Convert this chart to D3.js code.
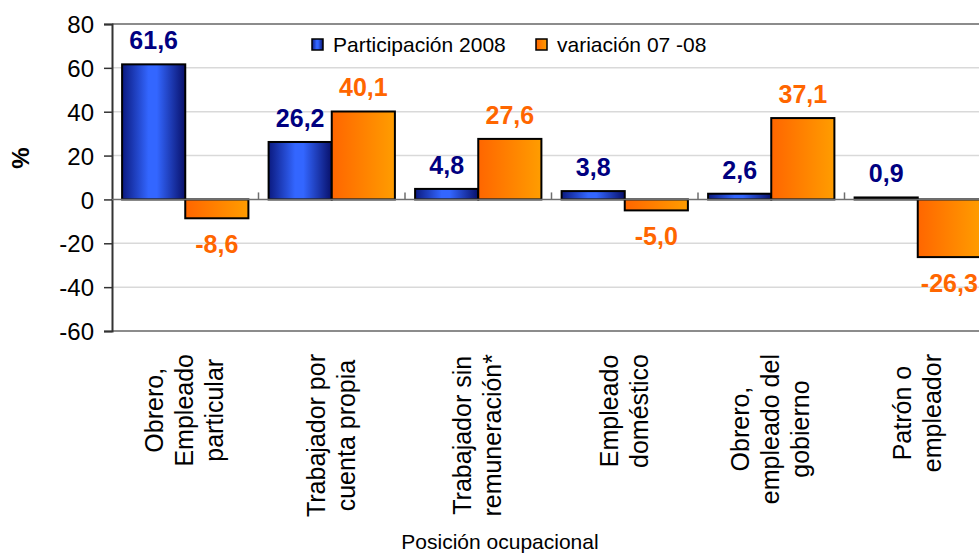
<!DOCTYPE html>
<html><head><meta charset="utf-8">
<script src="https://cdn.jsdelivr.net/npm/d3@7"></script>
<style>
html,body{margin:0;padding:0;background:#fff;overflow:hidden;}
text{font-family:Arial,"Liberation Sans",sans-serif;}
</style></head>
<body>
<svg id="chart" width="979" height="553"></svg>
<script>
const categories = [
  ["Obrero,", "Empleado", "particular"],
  ["Trabajador por", "cuenta propia"],
  ["Trabajador sin", "remuneración*"],
  ["Empleado", "doméstico"],
  ["Obrero,", "empleado del", "gobierno"],
  ["Patrón o", "empleador"]
];
const participacion2008 = [61.6, 26.2, 4.8, 3.8, 2.6, 0.9];
const variacion0708 = [-8.6, 40.1, 27.6, -5.0, 37.1, -26.3];
const seriesNames = ["Participación 2008", "variación 07 -08"];
const yTicks = [80, 60, 40, 20, 0, -20, -40, -60];
const xTitle = "Posición ocupacional";
const yTitle = "%";

const loc = d3.formatLocale({decimal: ",", thousands: ".", grouping: [3], currency: ["", ""], minus: "-"});

const svg = d3.select("#chart");
const pLeft = 112, pRight = 991, pTop = 24, pBottom = 331;

const defs = svg.append("defs");
const gb = defs.append("linearGradient").attr("id","gBlue").attr("x1","0").attr("x2","1").attr("y1","0").attr("y2","0");
[[0,"#0b1a80"],[0.42,"#3366ff"],[0.55,"#3366ff"],[1,"#08106a"]].forEach(s=>gb.append("stop").attr("offset",s[0]).attr("stop-color",s[1]));
const go = defs.append("linearGradient").attr("id","gOrange").attr("x1","0").attr("x2","1").attr("y1","0").attr("y2","0");
[[0,"#ff6600"],[1,"#ff9d00"]].forEach(s=>go.append("stop").attr("offset",s[0]).attr("stop-color",s[1]));

const idx = categories.map((d,i)=>i);
const x = d3.scaleBand().domain(idx).range([pLeft, pRight]).paddingInner(0).paddingOuter(0);
const x1 = d3.scaleBand().domain([0,1]).range([0, x.bandwidth()]).paddingInner(0).paddingOuter(0.16);
const y = d3.scaleLinear().domain([-60, 80]).range([pBottom, pTop]);

// gridlines
svg.append("g").selectAll("line").data(yTicks.filter(t=>t!==80 && t!==-60 && t!==0)).join("line")
  .attr("x1", pLeft).attr("x2", pRight).attr("y1", d=>y(d)).attr("y2", d=>y(d))
  .attr("stroke", "#d9d9d9").attr("stroke-width", 1.5);
// plot border top & bottom
[80, -60].forEach(v=>{
  svg.append("line").attr("x1", pLeft).attr("x2", pRight).attr("y1", y(v)).attr("y2", y(v))
    .attr("stroke", "#8c8c8c").attr("stroke-width", 2);
});

// y axis
const yAxis = d3.axisLeft(y).tickValues(yTicks).tickSize(8).tickPadding(10).tickFormat(loc.format("d"));
const ya = svg.append("g").attr("transform", `translate(${pLeft},0)`).call(yAxis);
ya.select(".domain").attr("stroke", "#333").attr("stroke-width", 2);
ya.selectAll(".tick line").attr("stroke", "#333").attr("stroke-width", 1.5);
ya.selectAll(".tick text").attr("font-size", 24).attr("fill", "#000").attr("font-family","Arial,'Liberation Sans',sans-serif").attr("dy","0.36em");

// bars
const series = [participacion2008, variacion0708];
const fills = ["url(#gBlue)", "url(#gOrange)"];
const labelColors = ["#000080", "#ff6600"];
series.forEach((vals, s) => {
  svg.append("g").selectAll("rect").data(vals).join("rect")
    .attr("x", (d,i)=>x(i)+x1(s))
    .attr("width", x1.bandwidth())
    .attr("y", d=>y(Math.max(0,d)))
    .attr("height", d=>Math.abs(y(d)-y(0)))
    .attr("fill", fills[s]).attr("stroke", "#000").attr("stroke-width", 2);
});

// zero axis line + category ticks
svg.append("line").attr("x1", pLeft).attr("x2", pRight).attr("y1", y(0)).attr("y2", y(0))
  .attr("stroke", "#6e6e6e").attr("stroke-width", 1.5);
svg.append("g").selectAll("line").data(idx.slice(1)).join("line")
  .attr("x1", d=>x(d)).attr("x2", d=>x(d)).attr("y1", y(0)).attr("y2", y(0)-7)
  .attr("stroke", "#6e6e6e").attr("stroke-width", 1.5);

// data labels
const fmt = loc.format(".1f");
series.forEach((vals, s) => {
  svg.append("g").selectAll("text").data(vals).join("text")
    .attr("x", (d,i)=>x(i)+x1(s)+x1.bandwidth()/2)
    .attr("y", d=> d>=0 ? y(d)-15 : y(d)+35)
    .attr("text-anchor","middle")
    .attr("font-size", 25).attr("font-weight","bold")
    .attr("fill", labelColors[s])
    .text(d=>fmt(d));
});

// x category labels (rotated, lines centered within block anchored at top)
const labelTop = 354, lineGap = 30;
categories.forEach((lines, i) => {
  const cx = x(i) + x.bandwidth()/2;
  const g = svg.append("g");
  const texts = lines.map((ln, k) => g.append("text").attr("font-size", 25).attr("fill","#000").text(ln));
  const maxLen = d3.max(texts, t => t.node().getComputedTextLength());
  const cy = labelTop + maxLen/2;
  const n = lines.length;
  texts.forEach((t, k) => {
    const bx = cx + (k - (n-1)/2) * lineGap + 8;
    t.attr("text-anchor","middle").attr("transform", `translate(${bx},${cy}) rotate(-90)`);
  });
});

// axis titles
svg.append("text").attr("x", 500).attr("y", 549).attr("text-anchor","middle")
  .attr("font-size", 21).attr("fill","#000").text(xTitle);
svg.append("text").attr("transform","translate(29,158) rotate(-90)").attr("text-anchor","middle")
  .attr("font-size", 24).attr("font-weight","bold").attr("fill","#000").text(yTitle);

// legend
const legend = svg.append("g");
const legX = [312, 536];
seriesNames.forEach((nm, s) => {
  legend.append("rect").attr("x", legX[s]).attr("y", 39).attr("width", 11).attr("height", 11)
    .attr("fill", fills[s]).attr("stroke","#000").attr("stroke-width",1.5);
  legend.append("text").attr("x", legX[s]+21).attr("y", 52).attr("font-size", 21).attr("fill","#000").text(nm);
});
</script>
</body></html>
